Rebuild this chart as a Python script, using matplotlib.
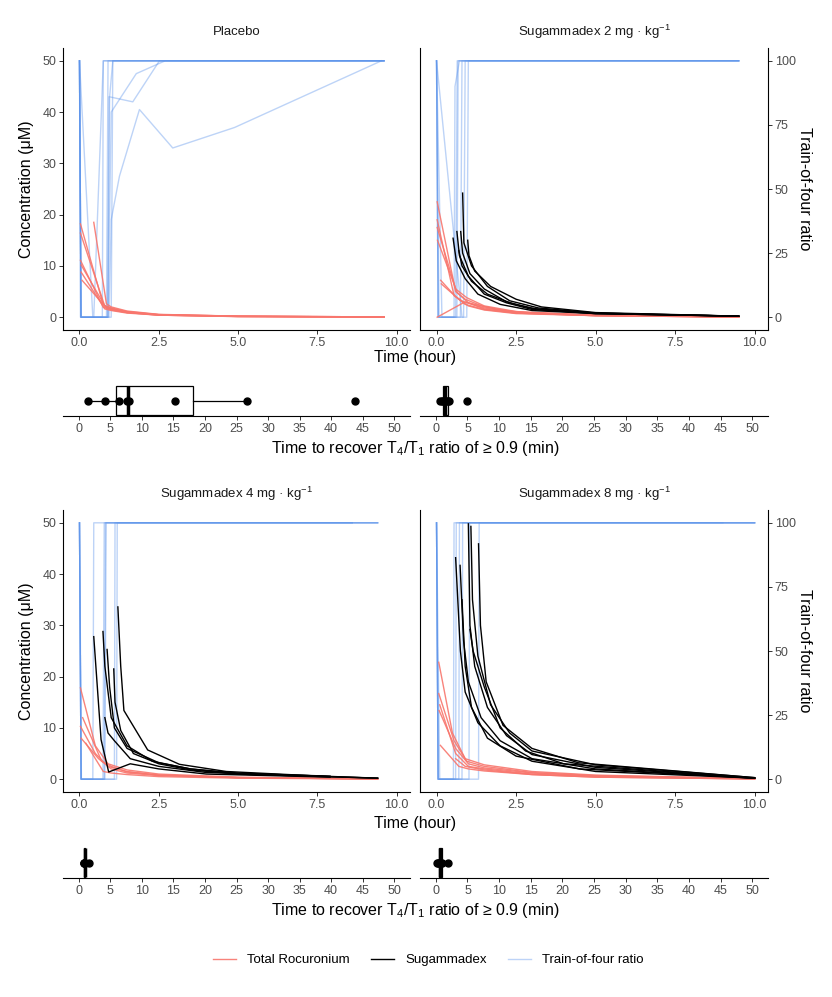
import numpy as np
import matplotlib.pyplot as plt
from matplotlib.lines import Line2D

plt.rcParams['font.family'] = ['Liberation Sans', 'DejaVu Sans']
plt.rcParams['mathtext.fontset'] = 'custom'
plt.rcParams['mathtext.rm'] = 'Liberation Sans'
plt.rcParams['mathtext.it'] = 'Liberation Sans'
plt.rcParams['mathtext.default'] = 'rm'

ROC_COL = '#F8766D'
TOF_COL = '#5B93EB'

## ---------------- data ----------------
panel_titles = ['Placebo',
                'Sugammadex 2 mg · kg$^{-1}$',
                'Sugammadex 4 mg · kg$^{-1}$',
                'Sugammadex 8 mg · kg$^{-1}$']

# Placebo
placebo_roc_t = [[0.03, 0.75, 1.0, 1.5, 2.5, 5.0, 9.6],
                 [0.03, 0.8, 1.0, 1.5, 2.5, 5.0, 9.6],
                 [0.03, 0.75, 1.0, 1.5, 2.5, 5.0, 9.6],
                 [0.05, 0.8, 1.0, 1.5, 2.5, 5.0, 9.6],
                 [0.05, 0.8, 1.0, 1.5, 2.5, 5.0, 9.6],
                 [0.08, 0.85, 1.0, 1.5, 2.5, 5.0, 9.6],
                 [0.45, 0.85, 1.0, 1.5, 2.5, 5.0, 9.6]]
placebo_roc = [[18.2, 2.4, 1.8, 1.1, 0.5, 0.2, 0.05],
               [16.4, 2.1, 1.6, 1.0, 0.5, 0.2, 0.05],
               [11.1, 1.9, 1.5, 0.9, 0.4, 0.15, 0.04],
               [10.2, 2.2, 1.7, 1.0, 0.45, 0.15, 0.04],
               [8.8, 1.6, 1.3, 0.8, 0.4, 0.12, 0.03],
               [7.2, 1.8, 1.4, 0.9, 0.4, 0.12, 0.03],
               [18.5, 2.6, 2.0, 1.2, 0.55, 0.2, 0.05]]
placebo_sug_t = []
placebo_sug = []
placebo_tof_t = [[0, 0.42, 0.45, 0.75, 9.6],
                 [0, 0.04, 0.72, 0.75, 9.6],
                 [0, 0.05, 0.85, 0.9, 9.6],
                 [0, 0.03, 0.88, 0.95, 1.05, 9.6],
                 [0, 0.05, 0.9, 0.93, 1.68, 2.52, 9.6],
                 [0, 0.05, 0.9, 1.0, 1.79, 2.7, 9.6],
                 [0, 0.05, 0.93, 1.0, 1.26, 1.89, 2.94, 4.89, 9.52],
                 [0, 0.05, 1.0, 1.05, 9.6]]
placebo_tof = [[100, 0, 0, 100, 100],
               [100, 0, 0, 100, 100],
               [100, 0, 0, 100, 100],
               [100, 0, 0, 86, 100, 100],
               [100, 0, 0, 86, 84, 100, 100],
               [100, 0, 0, 80, 95, 100, 100],
               [100, 0, 0, 38, 55, 81, 66, 74, 100],
               [100, 0, 0, 100, 100]]
placebo_rec = [1.5, 4.2, 6.4, 7.7, 7.9, 15.3, 26.6, 43.8]

# Sugammadex 2 mg/kg
sug2_roc_t = [[0.02, 0.6, 0.9, 1.5, 2.5, 5.0, 9.5],
              [0.02, 0.55, 0.85, 1.5, 2.5, 5.0, 9.5],
              [0.02, 0.6, 0.95, 1.5, 2.5, 5.0, 9.5],
              [0.03, 0.65, 1.0, 1.5, 2.5, 5.0, 9.5],
              [0.13, 0.6, 0.9, 1.5, 2.5, 5.0, 9.5],
              [0.15, 0.7, 1.0, 1.5, 2.5, 5.0, 9.5],
              [0.02, 0.9, 1.2, 2.0, 3.0, 5.0, 9.5]]
sug2_roc = [[22.5, 5.0, 3.5, 2.0, 1.0, 0.4, 0.05],
            [19.0, 4.2, 3.0, 1.8, 0.9, 0.35, 0.05],
            [17.5, 5.5, 3.8, 2.2, 1.1, 0.4, 0.05],
            [15.0, 4.8, 2.8, 1.6, 0.8, 0.3, 0.04],
            [7.2, 4.0, 2.5, 1.5, 0.8, 0.3, 0.04],
            [6.5, 3.5, 2.2, 1.4, 0.7, 0.3, 0.03],
            [0.0, 3.0, 2.5, 1.4, 0.8, 0.3, 0.03]]
sug2_sug_t = [[0.52, 0.62, 0.9, 1.3, 2.0, 3.0, 5.0, 9.5],
              [0.64, 0.72, 1.0, 1.5, 2.2, 3.0, 5.0, 9.5],
              [0.76, 0.82, 1.05, 1.5, 2.2, 3.0, 5.0, 9.5],
              [0.82, 0.86, 1.1, 1.6, 2.3, 3.2, 5.0, 9.5],
              [0.98, 1.02, 1.2, 1.7, 2.5, 3.3, 5.0, 9.5],
              [0.7, 0.8, 1.1, 1.6, 2.4, 3.2, 5.0, 9.5]]
sug2_sug = [[15.4, 11.0, 7.5, 4.5, 2.5, 1.3, 0.7, 0.2],
            [16.7, 12.0, 8.0, 4.5, 2.8, 1.5, 0.7, 0.2],
            [16.7, 12.5, 8.5, 5.5, 3.0, 1.7, 0.8, 0.2],
            [24.2, 14.5, 10.0, 6.0, 3.2, 1.8, 0.8, 0.2],
            [15.0, 12.0, 9.0, 6.0, 3.5, 2.0, 0.9, 0.2],
            [13.0, 10.0, 7.0, 4.5, 2.6, 1.5, 0.7, 0.2]]
sug2_tof_t = [[0, 0.05, 0.55, 0.58, 0.72, 9.5],
              [0, 0.05, 0.64, 0.68, 9.5],
              [0, 0.08, 0.75, 0.8, 9.5],
              [0, 0.8, 0.85, 0.9, 9.5],
              [0, 0.05, 0.95, 1.0, 9.5],
              [0, 0.17, 0.6, 0.65, 9.5]]
sug2_tof = [[100, 0, 0, 90, 100, 100],
            [100, 0, 0, 100, 100],
            [100, 0, 0, 100, 100],
            [100, 0, 0, 100, 100],
            [100, 0, 0, 100, 100],
            [100, 0, 0, 100, 100]]
sug2_rec = [0.7, 1.0, 1.2, 1.4, 1.6, 1.9, 2.1, 5.0]

# Sugammadex 4 mg/kg
sug4_roc_t = [[0.03, 0.5, 0.9, 1.5, 2.5, 5.0, 9.4],
              [0.03, 0.5, 0.9, 1.5, 2.5, 5.0, 9.4],
              [0.05, 0.6, 1.0, 1.5, 2.5, 5.0, 9.4],
              [0.1, 0.7, 1.0, 1.5, 2.5, 5.0, 9.4],
              [0.2, 0.75, 1.0, 1.5, 2.5, 5.0, 9.4]]
sug4_roc = [[17.8, 6.5, 3.0, 1.8, 1.0, 0.4, 0.05],
            [10.3, 5.0, 2.5, 1.5, 0.8, 0.3, 0.05],
            [8.0, 4.0, 2.0, 1.2, 0.7, 0.3, 0.05],
            [12.0, 3.5, 2.5, 1.4, 0.8, 0.3, 0.05],
            [7.0, 1.5, 1.2, 0.9, 0.5, 0.2, 0.03]]
sug4_sug_t = [[0.45, 0.68, 0.92, 1.6, 2.5, 4.0, 7.9],
              [0.74, 0.8, 1.0, 1.5, 2.3, 3.5, 5.0, 9.4],
              [0.87, 0.95, 1.1, 1.5, 2.5, 3.5, 5.0, 9.4],
              [1.08, 1.12, 1.3, 1.7, 2.5, 3.5, 5.0, 9.4],
              [1.21, 1.3, 1.4, 2.15, 3.15, 4.63, 7.9],
              [0.8, 0.9, 1.1, 1.6, 2.5, 4.0, 7.9]]
sug4_sug = [[27.8, 7.7, 1.4, 3.0, 2.0, 1.0, 0.4],
            [28.8, 22.0, 12.0, 6.5, 3.5, 2.0, 1.2, 0.2],
            [25.3, 18.0, 10.0, 6.0, 3.2, 2.0, 1.0, 0.2],
            [21.5, 15.0, 9.5, 5.0, 3.0, 1.8, 1.0, 0.2],
            [33.6, 22.0, 13.4, 5.7, 2.9, 1.5, 0.5],
            [12.0, 9.0, 7.5, 4.0, 2.5, 1.3, 0.6]]
sug4_tof_t = [[0, 0.05, 0.42, 0.45, 9.4],
              [0, 0.05, 0.74, 0.78, 8.6],
              [0, 0.05, 0.8, 0.84, 9.4],
              [0, 0.05, 1.1, 1.12, 9.4],
              [0, 0.05, 1.17, 1.19, 8.6],
              [0, 0.06, 0.78, 0.82, 9.4]]
sug4_tof = [[100, 0, 0, 100, 100],
            [100, 0, 0, 100, 100],
            [100, 0, 0, 100, 100],
            [100, 0, 0, 100, 100],
            [100, 0, 0, 100, 100],
            [100, 0, 0, 100, 100]]
sug4_rec = [0.8, 0.9, 0.9, 1.0, 1.0, 1.6]

# Sugammadex 8 mg/kg
sug8_roc_t = [[0.07, 0.5, 0.9, 1.5, 3.0, 5.0, 10.0],
              [0.07, 0.55, 0.95, 1.5, 3.0, 5.0, 10.0],
              [0.08, 0.6, 1.0, 1.5, 3.0, 5.0, 10.0],
              [0.1, 0.6, 1.0, 1.5, 3.0, 5.0, 10.0],
              [0.12, 0.7, 1.0, 1.5, 3.0, 5.0, 10.0],
              [0.6, 0.7, 0.9, 1.5, 3.0, 5.0, 10.0]]
sug8_roc = [[22.8, 9.0, 4.0, 2.8, 1.5, 0.8, 0.1],
            [16.7, 7.5, 3.5, 2.5, 1.3, 0.7, 0.1],
            [13.4, 6.0, 3.0, 2.2, 1.2, 0.6, 0.1],
            [14.5, 5.0, 2.5, 2.0, 1.0, 0.5, 0.05],
            [6.6, 2.5, 2.0, 1.6, 0.9, 0.4, 0.05],
            [4.0, 3.5, 2.5, 1.8, 0.9, 0.4, 0.05]]
sug8_sug_t = [[0.60, 0.75, 0.9, 1.3, 2.0, 3.0, 5.0, 10.0],
              [0.74, 0.85, 1.0, 1.4, 2.0, 3.0, 5.0, 10.0],
              [1.0, 1.05, 1.2, 1.6, 2.2, 3.0, 5.0, 10.0],
              [1.08, 1.13, 1.3, 1.7, 2.3, 3.0, 5.0, 10.0],
              [1.32, 1.38, 1.56, 2.09, 3.0, 4.46, 10.0],
              [1.05, 1.15, 1.5, 2.0, 2.8, 4.0, 10.0],
              [0.8, 0.9, 1.1, 1.6, 2.5, 4.5, 10.0]]
sug8_sug = [[43.2, 25.0, 17.0, 11.0, 6.5, 3.5, 1.5, 0.2],
            [41.7, 27.0, 19.0, 12.0, 7.5, 4.0, 2.0, 0.2],
            [49.8, 30.0, 22.0, 14.0, 8.5, 4.8, 2.3, 0.2],
            [49.3, 35.0, 24.0, 14.5, 9.0, 5.5, 2.8, 0.3],
            [45.9, 30.0, 19.0, 10.5, 6.0, 3.2, 0.3],
            [29.2, 25.0, 18.0, 10.0, 5.5, 3.0, 0.2],
            [35.0, 22.0, 14.0, 8.0, 4.5, 2.0, 0.2]]
sug8_tof_t = [[0, 0.05, 0.53, 0.55, 10.0],
              [0, 0.05, 0.7, 0.72, 10.0],
              [0, 0.05, 0.8, 0.82, 10.0],
              [0, 0.05, 1.02, 1.04, 10.0],
              [0, 0.05, 1.32, 1.34, 10.0],
              [0, 0.1, 0.6, 0.62, 9.0]]
sug8_tof = [[100, 0, 0, 100, 100],
            [100, 0, 0, 100, 100],
            [100, 0, 0, 100, 100],
            [100, 0, 0, 100, 100],
            [100, 0, 0, 100, 100],
            [100, 0, 0, 100, 100]]
sug8_rec = [0.2, 0.4, 0.5, 0.7, 0.8, 1.0, 2.0]

time_ticks = [0, 2.5, 5, 7.5, 10]
conc_ticks = [0, 10, 20, 30, 40, 50]
tof_ticks = [0, 25, 50, 75, 100]
rec_ticks = list(range(0, 55, 5))

## ---------------- layout ----------------
W, H = 832, 997
fig = plt.figure(figsize=(W / 100, H / 100), dpi=100)


def rect(l, t, r, b):
    return [l / W, 1 - b / H, (r - l) / W, (b - t) / H]


cols = [(63, 410), (420, 768)]
main_rows = [(48, 330), (510, 792)]
box_rows = [(383, 416), (845, 878)]

panels = [
    (placebo_roc_t, placebo_roc, placebo_sug_t, placebo_sug, placebo_tof_t, placebo_tof, placebo_rec),
    (sug2_roc_t, sug2_roc, sug2_sug_t, sug2_sug, sug2_tof_t, sug2_tof, sug2_rec),
    (sug4_roc_t, sug4_roc, sug4_sug_t, sug4_sug, sug4_tof_t, sug4_tof, sug4_rec),
    (sug8_roc_t, sug8_roc, sug8_sug_t, sug8_sug, sug8_tof_t, sug8_tof, sug8_rec),
]


def style_ticks(ax):
    ax.tick_params(axis='both', length=2.9, width=0.7, color='#333333',
                   labelcolor='#4D4D4D', labelsize=9, pad=2)


for i, (roc_t, roc, sug_t, sug, tof_t, tof, rec) in enumerate(panels):
    row, col = divmod(i, 2)
    l, r = cols[col]
    t, b = main_rows[row]
    ax = fig.add_axes(rect(l, t, r, b))

    # TOF on the secondary scale (0-100 -> 0-50)
    for tt, vv in zip(tof_t, tof):
        ax.plot(tt, np.array(vv) / 2, color=TOF_COL, alpha=0.4, lw=1.0)
    for tt, vv in zip(roc_t, roc):
        ax.plot(tt, vv, color=ROC_COL, alpha=0.9, lw=1.0)
    for tt, vv in zip(sug_t, sug):
        ax.plot(tt, vv, color='black', lw=1.0)

    ax.set_xlim(-0.52, 10.42)
    ax.set_ylim(-2.5, 52.5)
    ax.set_xticks(time_ticks)
    ax.set_xticklabels(['%.1f' % v for v in time_ticks])
    ax.spines['top'].set_visible(False)
    ax.spines['right'].set_visible(False)
    for s in ['left', 'bottom']:
        ax.spines[s].set_linewidth(0.8)
    style_ticks(ax)
    if col == 0:
        ax.set_yticks(conc_ticks)
    else:
        ax.set_yticks([])
        sec = ax.secondary_yaxis('right', functions=(lambda y: y * 2, lambda y: y / 2))
        sec.set_yticks(tof_ticks)
        sec.spines['right'].set_linewidth(0.8)
        style_ticks(sec)

    ax.text(0.5, 1 + 16 / (b - t), panel_titles[i], transform=ax.transAxes,
            ha='center', va='center', fontsize=9.5, color='#1A1A1A')

    # recovery box plot
    bt, bb = box_rows[row]
    bx = fig.add_axes(rect(l, bt, r, bb))
    bx.boxplot(rec, orientation='horizontal', positions=[0], widths=1.87, whis=1.5,
               showfliers=False, showcaps=False, patch_artist=True,
               boxprops=dict(facecolor='white', edgecolor='black', linewidth=0.9),
               medianprops=dict(color='black', linewidth=2.5),
               whiskerprops=dict(color='black', linewidth=0.9))
    bx.plot(rec, np.zeros(len(rec)), 'o', color='black', ms=5, zorder=5)
    bx.set_xlim(-2.5, 52.5)
    bx.set_ylim(-1, 1.13)
    bx.set_xticks(rec_ticks)
    bx.set_xticklabels([str(v) for v in rec_ticks])
    bx.set_yticks([])
    for s in ['top', 'right', 'left']:
        bx.spines[s].set_visible(False)
    bx.spines['bottom'].set_linewidth(0.8)
    style_ticks(bx)

## ---------------- shared labels ----------------
for row in range(2):
    t, b = main_rows[row]
    mid = (t + b) / 2
    fig.text(27 / W, 1 - mid / H, 'Concentration (μM)', rotation=90,
             ha='center', va='center', fontsize=11.5)
    fig.text(805 / W, 1 - mid / H, 'Train-of-four ratio', rotation=270,
             ha='center', va='center', fontsize=11.5)

fig.text(415 / W, 1 - 357 / H, 'Time (hour)', ha='center', va='center', fontsize=11.5)
fig.text(415 / W, 1 - 823 / H, 'Time (hour)', ha='center', va='center', fontsize=11.5)
rec_label = 'Time to recover T$_{4}$/T$_{1}$ ratio of ≥ 0.9 (min)'
fig.text(415 / W, 1 - 449 / H, rec_label, ha='center', va='center', fontsize=11.5)
fig.text(415 / W, 1 - 910 / H, rec_label, ha='center', va='center', fontsize=11.5)

handles = [Line2D([], [], color=ROC_COL, alpha=0.9, lw=1.0),
           Line2D([], [], color='black', lw=1.0),
           Line2D([], [], color=TOF_COL, alpha=0.4, lw=1.0)]
fig.legend(handles, ['Total Rocuronium', 'Sugammadex', 'Train-of-four ratio'],
           loc='center', bbox_to_anchor=(428 / W, 1 - 960 / H), ncol=3,
           frameon=False, fontsize=9.5, handlelength=1.8, columnspacing=1.6)

plt.savefig('out.png', dpi=100)
